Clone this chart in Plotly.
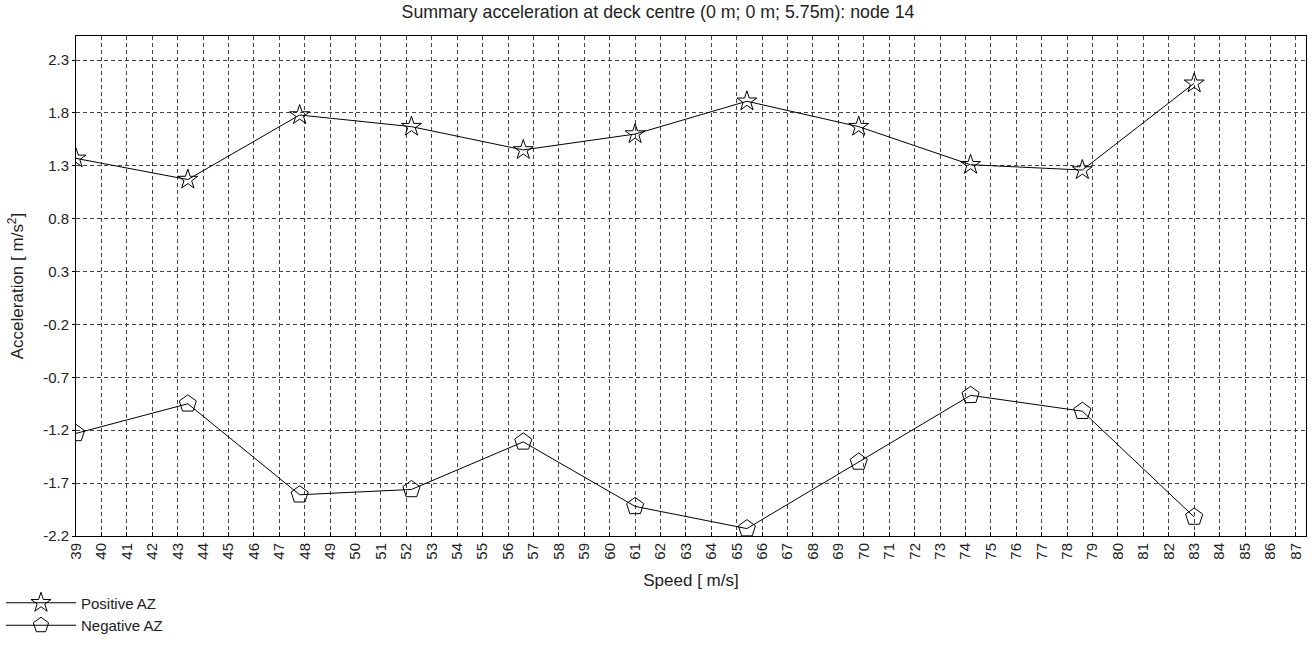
import plotly.graph_objects as go

speed = [39.0, 43.4, 47.8, 52.2, 56.6, 61.0, 65.4, 69.8, 74.2, 78.6, 83.0]
positive_az = [1.37, 1.17, 1.78, 1.67, 1.45, 1.60, 1.91, 1.67, 1.31, 1.26, 2.08]
negative_az = [-1.23, -0.95, -1.81, -1.76, -1.31, -1.92, -2.13, -1.50, -0.87, -1.02, -2.02]

x_ticks = list(range(39, 88))
y_ticks = [-2.2, -1.7, -1.2, -0.7, -0.2, 0.3, 0.8, 1.3, 1.8, 2.3]

title_text = "Summary acceleration at deck centre (0 m; 0 m; 5.75m): node 14"
x_title = "Speed [ m/s]"
y_title = "Acceleration [ m/s<sup>2</sup>]"

FONT = "Liberation Sans, Arial, sans-serif"
TXT = "#222"

fig = go.Figure()
fig.add_trace(go.Scatter(
    x=speed, y=positive_az, mode="lines+markers", name="Positive AZ",
    line=dict(color="black", width=1),
    marker=dict(symbol="star-open", size=15, color="black", line=dict(color="black", width=1)),
))
fig.add_trace(go.Scatter(
    x=speed, y=negative_az, mode="lines+markers", name="Negative AZ",
    line=dict(color="black", width=1),
    marker=dict(symbol="pentagon-open", size=18, color="black", line=dict(color="black", width=1)),
))

fig.update_layout(
    width=1314, height=647,
    margin=dict(l=76, r=8, t=36, b=111, autoexpand=False),
    paper_bgcolor="white", plot_bgcolor="white",
    font=dict(family=FONT, size=15, color=TXT),
    title=dict(text=title_text, xref="container", x=658 / 1314, xanchor="center",
               yref="container", y=1 - 12 / 647, yanchor="middle",
               font=dict(family=FONT, size=17.8, color=TXT)),
    showlegend=True,
    legend=dict(x=-0.061, y=-0.101, xanchor="left", yanchor="top",
                font=dict(family=FONT, size=15, color=TXT),
                bgcolor="rgba(0,0,0,0)", itemwidth=70, tracegroupgap=0),
)
fig.update_xaxes(
    range=[39, 87.4], tickmode="array", tickvals=x_ticks, ticktext=[str(v) for v in x_ticks],
    tickangle=-90, showgrid=True, gridcolor="#444", griddash="4px,3px", gridwidth=1,
    showline=True, linecolor="black", linewidth=1, mirror=True, zeroline=False,
    ticks="inside", ticklen=4, tickcolor="black", automargin=False,
    tickfont=dict(family=FONT, size=15, color=TXT),
    title=dict(text=x_title, font=dict(family=FONT, size=17, color=TXT)),
)
fig.update_yaxes(
    range=[-2.2, 2.527], tickmode="array", tickvals=y_ticks, ticktext=[f"{v:.1f}" for v in y_ticks],
    showgrid=True, gridcolor="#444", griddash="4px,3px", gridwidth=1,
    showline=True, linecolor="black", linewidth=1, mirror=True, zeroline=False,
    ticks="outside", ticklen=3, tickcolor="black", automargin=False,
    tickfont=dict(family=FONT, size=15, color=TXT),
    title=dict(text=y_title, font=dict(family=FONT, size=17, color=TXT)),
)

fig.write_html(
    "out.html",
    config={"displayModeBar": False},
    post_script="document.body.style.margin='0';document.body.style.overflow='hidden';",
)
